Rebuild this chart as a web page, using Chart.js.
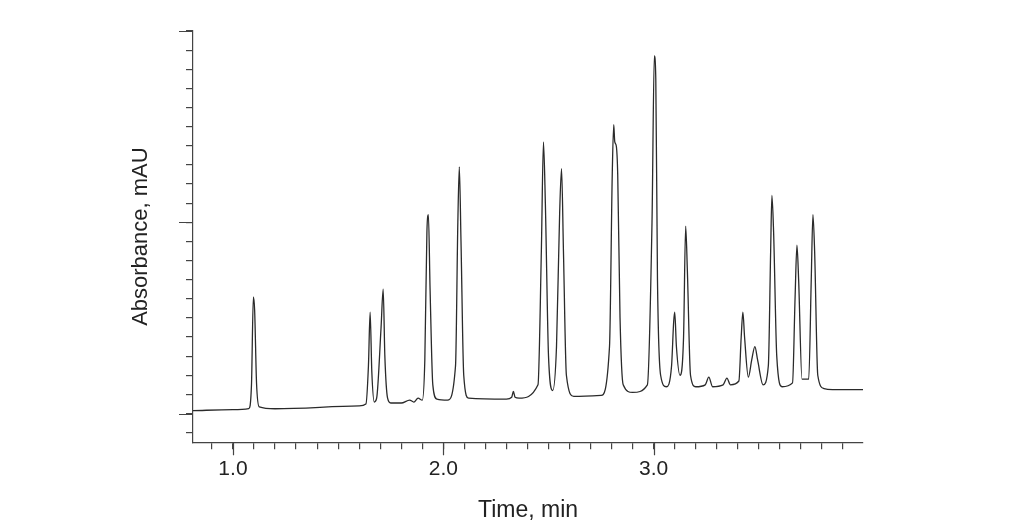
<!DOCTYPE html>
<html><head><meta charset="utf-8">
<script src="https://cdn.jsdelivr.net/npm/chart.js@4"></script>
<style>html,body{margin:0;background:#fff}#w{width:1024px;height:524px}</style>
</head><body><div id="w"><canvas id="c"></canvas></div>
<script>
const times = [0.81,1.00,1.075,1.088,1.097,1.103,1.112,1.125,1.2,1.6,1.632,1.644,1.652,1.66,1.672,1.683,1.704,1.714,1.722,1.735,1.75,1.8,1.84,1.86,1.88,1.9,1.912,1.922,1.929,1.937,1.95,1.97,2.02,2.058,2.069,2.076,2.084,2.097,2.12,2.3,2.325,2.333,2.341,2.36,2.45,2.466,2.476,2.485,2.5,2.52,2.538,2.553,2.562,2.571,2.585,2.62,2.75,2.79,2.803,2.81,2.815,2.822,2.829,2.84,2.855,2.9,2.97,2.992,3.003,3.01,3.018,3.033,3.06,3.085,3.095,3.1,3.108,3.125,3.142,3.152,3.16,3.175,3.2,3.245,3.262,3.28,3.33,3.348,3.365,3.405,3.416,3.424,3.432,3.45,3.466,3.481,3.494,3.52,3.545,3.556,3.562,3.57,3.585,3.61,3.66,3.672,3.681,3.689,3.705,3.737,3.749,3.757,3.765,3.78,3.81,3.85,4.0];
const signal = [0.15,0.2,0.25,1.5,6.1,5.4,1.6,0.35,0.25,0.4,0.5,2.5,5.3,2.2,0.6,0.8,4.5,6.5,3.0,0.8,0.55,0.55,0.7,0.6,0.8,0.7,2.8,9.5,10.4,6.5,1.5,0.75,0.7,2.5,10.0,12.9,9.0,2.0,0.8,0.75,0.85,1.15,0.85,0.8,1.5,8.5,14.2,11.0,3.0,1.2,3.5,10.5,12.8,8.5,2.0,0.9,0.95,3.5,12.5,15.1,14.2,14.0,12.5,5.0,1.5,1.1,1.5,10.0,18.7,17.5,7.0,2.0,1.4,2.5,4.8,5.3,3.5,2.0,4.0,9.8,7.5,2.0,1.4,1.5,1.9,1.4,1.5,1.85,1.5,1.7,4.0,5.3,4.0,1.9,2.8,3.5,2.8,1.5,2.5,8.5,11.4,9.5,3.0,1.4,1.6,6.0,8.8,7.0,1.8,1.8,7.0,10.4,8.5,2.0,1.3,1.25,1.25];
const xMajor = [1,2,3];
const xLabels = ["1.0","2.0","3.0"];
const yMajor = [0,10,20];

const pts = times.map((t,i)=>({x:t,y:signal[i]}));
const axisColor = '#444';
const majorTicks = {
  id:'majorTicks',
  afterDraw(ch){
    const c=ch.ctx, xs=ch.scales.x, ys=ch.scales.y;
    c.save(); c.strokeStyle=axisColor; c.lineWidth=1.2; c.beginPath();
    xMajor.forEach(v=>{const p=Math.round(xs.getPixelForValue(v))+0.5; c.moveTo(p,ys.bottom); c.lineTo(p,ys.bottom+13);});
    yMajor.forEach(v=>{const p=Math.round(ys.getPixelForValue(v))+0.5; c.moveTo(xs.left,p); c.lineTo(xs.left-14,p);});
    c.stroke(); c.restore();
  }
};
new Chart(document.getElementById('c'),{
  type:'line',
  data:{datasets:[{data:pts,borderColor:'#2a2a2a',borderWidth:1.3,pointRadius:0,cubicInterpolationMode:'monotone',fill:false}]},
  options:{
    responsive:true,maintainAspectRatio:false,animation:false,
    layout:{padding:{left:124,right:161,top:31,bottom:0}},
    plugins:{legend:{display:false},tooltip:{enabled:false}},
    scales:{
      x:{type:'linear',min:0.81,max:3.995,
        afterBuildTicks(s){const a=[];for(let k=9;k<=39;k++)a.push({value:k/10});s.ticks=a;},
        ticks:{autoSkip:false,maxRotation:0,padding:7,color:'#222',font:{family:'Liberation Sans',size:21},
          callback(v){const i=xMajor.findIndex(m=>Math.abs(m-v)<1e-6);return i>=0?xLabels[i]:'';}},
        grid:{drawOnChartArea:false,tickLength:7,color:axisColor,lineWidth:1.2},
        border:{color:axisColor,width:1.2},
        title:{display:true,text:'Time, min',color:'#222',font:{family:'Liberation Sans',size:23},padding:{top:8,bottom:0}}
      },
      y:{type:'linear',min:-1.5,max:20,
        afterBuildTicks(s){const a=[];for(let k=-1;k<=20;k++)a.push({value:k});s.ticks=a;},
        afterFit(s){s.width=69;},
        ticks:{display:false},
        grid:{drawOnChartArea:false,tickLength:7,color:axisColor,lineWidth:1.2},
        border:{color:axisColor,width:1.2},
        title:{display:true,text:'Absorbance, mAU',color:'#222',font:{family:'Liberation Sans',size:22},padding:{bottom:10}}
      }
    }
  },
  plugins:[majorTicks]
});
</script></body></html>
